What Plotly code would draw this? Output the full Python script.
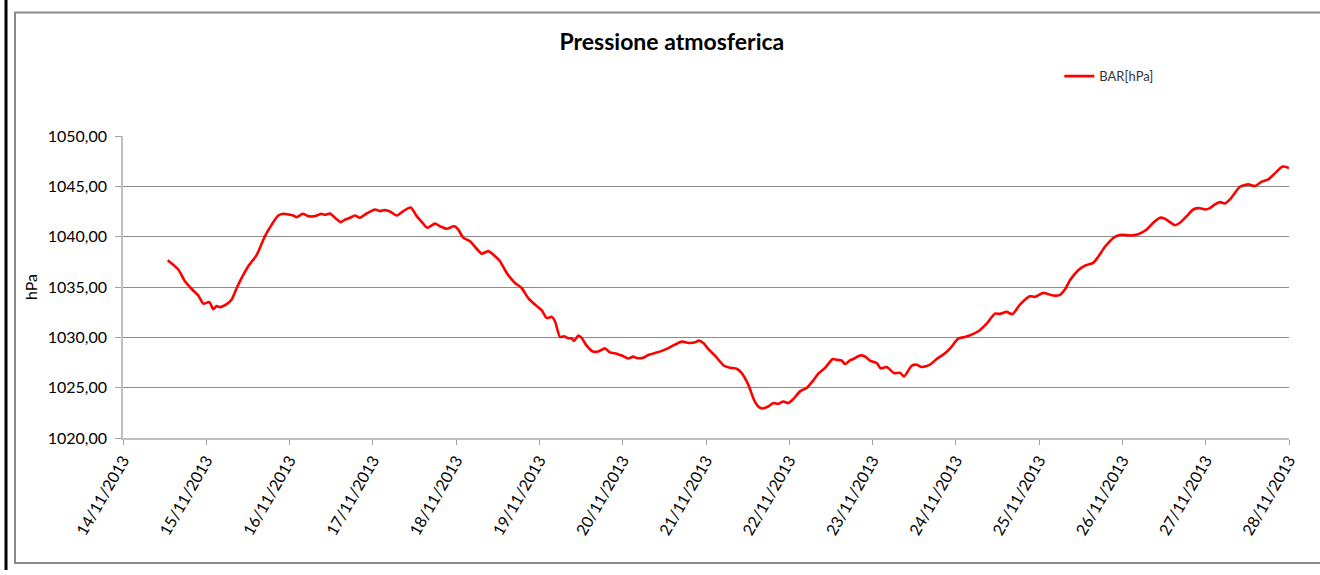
import plotly.graph_objects as go

# Data
times = [
    "2013-11-14 12:53", "2013-11-14 15:56", "2013-11-14 17:52", "2013-11-14 19:48", "2013-11-14 21:42",
    "2013-11-14 23:08", "2013-11-15 00:52", "2013-11-15 02:01", "2013-11-15 03:00", "2013-11-15 03:57",
    "2013-11-15 05:53", "2013-11-15 07:19", "2013-11-15 08:46", "2013-11-15 10:12", "2013-11-15 12:06",
    "2013-11-15 14:32", "2013-11-15 16:55", "2013-11-15 18:51", "2013-11-15 20:45", "2013-11-15 22:11",
    "2013-11-16 01:04", "2013-11-16 02:03", "2013-11-16 03:47", "2013-11-16 05:24", "2013-11-16 07:19",
    "2013-11-16 09:15", "2013-11-16 10:12", "2013-11-16 11:39", "2013-11-16 13:05", "2013-11-16 14:44",
    "2013-11-16 15:58", "2013-11-16 17:25", "2013-11-16 18:51", "2013-11-16 20:17", "2013-11-16 22:13",
    "2013-11-17 00:37", "2013-11-17 02:03", "2013-11-17 03:30", "2013-11-17 04:56", "2013-11-17 06:52",
    "2013-11-17 08:46", "2013-11-17 10:54", "2013-11-17 12:38", "2013-11-17 14:04", "2013-11-17 15:41",
    "2013-11-17 17:54", "2013-11-17 19:20", "2013-11-17 21:16", "2013-11-17 23:28", "2013-11-18 00:37",
    "2013-11-18 02:04", "2013-11-18 04:00", "2013-11-18 05:55", "2013-11-18 07:22", "2013-11-18 09:16",
    "2013-11-18 11:41", "2013-11-18 12:38", "2013-11-18 14:34", "2013-11-18 16:57", "2013-11-18 18:53",
    "2013-11-18 20:47", "2013-11-18 23:13", "2013-11-19 00:39", "2013-11-19 02:05", "2013-11-19 03:32",
    "2013-11-19 04:29", "2013-11-19 05:55", "2013-11-19 07:04", "2013-11-19 08:19", "2013-11-19 09:17",
    "2013-11-19 09:58", "2013-11-19 11:12", "2013-11-19 12:10", "2013-11-19 13:37", "2013-11-19 15:20",
    "2013-11-19 16:58", "2013-11-19 18:53", "2013-11-19 20:20", "2013-11-19 22:16", "2013-11-19 23:42",
    "2013-11-20 01:36", "2013-11-20 03:02", "2013-11-20 04:01", "2013-11-20 05:56", "2013-11-20 07:22",
    "2013-11-20 09:18", "2013-11-20 10:44", "2013-11-20 12:40", "2013-11-20 15:04", "2013-11-20 16:59",
    "2013-11-20 19:23", "2013-11-20 20:49", "2013-11-20 21:58", "2013-11-20 23:13", "2013-11-21 00:39",
    "2013-11-21 02:35", "2013-11-21 05:11", "2013-11-21 06:55", "2013-11-21 08:50", "2013-11-21 10:17",
    "2013-11-21 12:11", "2013-11-21 13:49", "2013-11-21 15:04", "2013-11-21 16:13", "2013-11-21 17:56",
    "2013-11-21 19:23", "2013-11-21 20:50", "2013-11-21 22:16", "2013-11-21 23:43", "2013-11-22 01:09",
    "2013-11-22 03:05", "2013-11-22 05:01", "2013-11-22 06:55", "2013-11-22 08:21", "2013-11-22 10:17",
    "2013-11-22 12:30", "2013-11-22 13:39", "2013-11-22 15:05", "2013-11-22 16:02", "2013-11-22 17:29",
    "2013-11-22 18:26", "2013-11-22 20:22", "2013-11-22 21:49", "2013-11-22 23:15", "2013-11-23 01:11",
    "2013-11-23 02:20", "2013-11-23 04:04", "2013-11-23 06:10", "2013-11-23 07:53", "2013-11-23 09:03",
    "2013-11-23 11:16", "2013-11-23 12:42", "2013-11-23 14:08", "2013-11-23 16:32", "2013-11-23 18:28",
    "2013-11-23 20:22", "2013-11-23 22:18", "2013-11-24 00:41", "2013-11-24 02:37", "2013-11-24 04:33",
    "2013-11-24 06:28", "2013-11-24 08:52", "2013-11-24 11:16", "2013-11-24 12:43", "2013-11-24 14:38",
    "2013-11-24 16:15", "2013-11-24 18:28", "2013-11-24 21:21", "2013-11-24 22:47", "2013-11-25 01:11",
    "2013-11-25 04:04", "2013-11-25 06:00", "2013-11-25 07:26", "2013-11-25 08:53", "2013-11-25 11:16",
    "2013-11-25 13:12", "2013-11-25 15:35", "2013-11-25 17:02", "2013-11-25 18:58", "2013-11-25 21:50",
    "2013-11-25 23:46", "2013-11-26 02:10", "2013-11-26 04:34", "2013-11-26 06:59", "2013-11-26 08:53",
    "2013-11-26 10:49", "2013-11-26 12:15", "2013-11-26 15:08", "2013-11-26 16:34", "2013-11-26 18:31",
    "2013-11-26 20:25", "2013-11-26 22:20", "2013-11-26 23:47", "2013-11-27 01:13", "2013-11-27 02:40",
    "2013-11-27 04:06", "2013-11-27 05:32", "2013-11-27 06:59", "2013-11-27 09:52", "2013-11-27 12:16",
    "2013-11-27 14:11", "2013-11-27 16:07", "2013-11-27 18:01", "2013-11-27 19:57", "2013-11-27 22:10",
    "2013-11-28 00:00",
]

bar_hpa = [
    1037.66, 1036.74, 1035.57, 1034.80, 1034.15,
    1033.35, 1033.50, 1032.80, 1033.10, 1033.00,
    1033.30, 1033.75, 1034.90, 1035.90, 1037.06,
    1038.20, 1040.05, 1041.20, 1042.10, 1042.27,
    1042.10, 1041.94, 1042.27, 1042.04, 1042.04,
    1042.27, 1042.17, 1042.30, 1041.88, 1041.44,
    1041.70, 1041.88, 1042.10, 1041.88, 1042.30,
    1042.70, 1042.54, 1042.64, 1042.50, 1042.10,
    1042.54, 1042.90, 1042.04, 1041.48, 1040.88,
    1041.30, 1041.04, 1040.78, 1041.04, 1040.70,
    1039.90, 1039.55, 1038.80, 1038.30, 1038.56,
    1037.90, 1037.56, 1036.40, 1035.40, 1034.90,
    1033.90, 1033.10, 1032.70, 1031.93, 1032.03,
    1031.60, 1030.04, 1030.10, 1029.90, 1029.90,
    1029.64, 1030.17, 1029.94, 1029.17, 1028.60,
    1028.60, 1028.90, 1028.50, 1028.38, 1028.20,
    1027.90, 1028.08, 1027.95, 1027.98, 1028.25,
    1028.45, 1028.58, 1028.85, 1029.27, 1029.57,
    1029.44, 1029.50, 1029.67, 1029.44, 1028.85,
    1028.18, 1027.18, 1026.98, 1026.88, 1026.45,
    1025.30, 1023.80, 1023.13, 1022.93, 1023.13,
    1023.47, 1023.40, 1023.63, 1023.47, 1023.87,
    1024.63, 1024.97, 1025.72, 1026.40, 1026.95,
    1027.85, 1027.78, 1027.70, 1027.35, 1027.70,
    1027.85, 1028.20, 1028.10, 1027.68, 1027.45,
    1026.92, 1027.05, 1026.45, 1026.48, 1026.12,
    1027.18, 1027.28, 1027.05, 1027.28, 1027.85,
    1028.28, 1028.88, 1029.87, 1030.04, 1030.27,
    1030.60, 1031.36, 1032.36, 1032.33, 1032.53,
    1032.29, 1033.25, 1034.08, 1034.02, 1034.42,
    1034.15, 1034.22, 1034.75, 1035.67, 1036.67,
    1037.13, 1037.40, 1038.00, 1039.00, 1039.99,
    1040.19, 1040.12, 1040.25, 1040.72, 1041.38,
    1041.88, 1041.78, 1041.14, 1041.38, 1042.04,
    1042.70, 1042.83, 1042.70, 1042.83, 1043.20,
    1043.43, 1043.30, 1043.70, 1044.96, 1045.19,
    1045.03, 1045.46, 1045.69, 1046.29, 1046.96,
    1046.82,
]

tick_dates = [f"2013-11-{d:02d}" for d in range(14, 29)]
tick_labels = [f"{d}/11/2013" for d in range(14, 29)]
y_ticks = [1020, 1025, 1030, 1035, 1040, 1045, 1050]
y_labels = ["1020,00", "1025,00", "1030,00", "1035,00", "1040,00", "1045,00", "1050,00"]

FONT = "Lato, 'Open Sans', sans-serif"

fig = go.Figure()
fig.add_trace(go.Scatter(
    x=times, y=bar_hpa, mode="lines", name="BAR[hPa]",
    line=dict(color="#ff0000", width=2.6, shape="spline", smoothing=0.6),
))

fig.update_layout(
    width=1320, height=575,
    margin=dict(l=123, r=31, t=136, b=137, autoexpand=False),
    paper_bgcolor="white", plot_bgcolor="white",
    font=dict(family=FONT, size=16, color="#000000"),
    title=dict(text="<b>Pressione atmosferica</b>", x=0.509, xanchor="center",
               y=0.927, yanchor="middle", font=dict(family=FONT, size=23, color="#000000")),
    showlegend=True,
    legend=dict(x=0.803, y=1.198, xanchor="left", yanchor="middle",
                bgcolor="rgba(0,0,0,0)", font=dict(family=FONT, size=13, color="#333333"),
                itemwidth=30),
    shapes=[
        dict(type="rect", xref="paper", yref="paper",
             x0=-108 / 1166, x1=1320 / 1166, y0=-125 / 302, y1=(438 - 12.5) / 302,
             line=dict(color="#8a8a8a", width=2), fillcolor="rgba(0,0,0,0)", layer="below"),
        dict(type="line", xref="paper", yref="paper",
             x0=-117 / 1166, x1=-117 / 1166, y0=-132 / 302, y1=440 / 302,
             line=dict(color="#000000", width=3)),
    ],
)

fig.update_xaxes(
    type="date", range=["2013-11-14", "2013-11-28"],
    tickmode="array", tickvals=tick_dates, ticktext=tick_labels,
    tickangle=-60, ticks="outside", ticklen=5, tickcolor="#a0a0a0",
    showline=True, linecolor="#bfbfbf", linewidth=1.5,
    showgrid=False, zeroline=False,
    tickfont=dict(family=FONT, size=16, color="#000000"),
)
fig.update_yaxes(
    range=[1020, 1050], tickmode="array", tickvals=y_ticks, ticktext=y_labels,
    ticks="outside", ticklen=6, tickcolor="#a0a0a0", ticklabelstandoff=5,
    showline=True, linecolor="#bfbfbf", linewidth=1.5,
    showgrid=True, gridcolor="#8c8c8c", gridwidth=1, zeroline=False,
    tickfont=dict(family=FONT, size=16, color="#000000"),
    title=dict(text="hPa", standoff=6, font=dict(family=FONT, size=16, color="#000000")),
)

fig.write_html("out.html", config={"displayModeBar": False},
               post_script="document.body.style.margin='0';")
